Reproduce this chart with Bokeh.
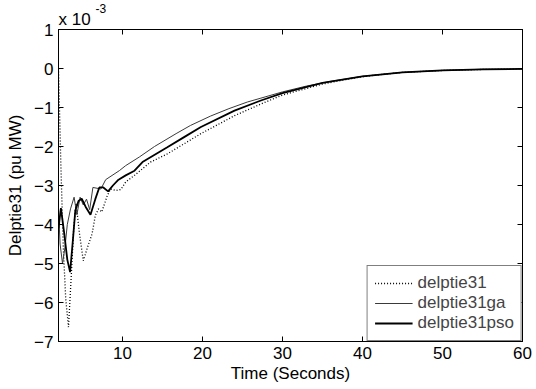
from bokeh.plotting import figure
from bokeh.models import (LinearAxis, FixedTicker, Range1d, Legend, LegendItem,
                          Title, CustomJSTickFormatter)
from bokeh.embed import file_html
from bokeh.resources import INLINE

# ---- data (values in units of 1e-3 pu MW) ----
t_dot = [2.0, 2.3, 2.6, 2.9, 3.25, 3.6, 3.9, 4.2, 4.6, 5.1, 5.6, 6.2, 6.6, 7.0,
         7.4, 8.1, 8.5, 9.2, 9.8, 10.4, 11.5, 13.5, 15.6, 17.7, 19.8, 22.0, 24.0,
         27.3, 30.0, 32.5, 35.0, 37.5, 40.0, 42.5, 45.0, 47.5, 50.0, 55.0, 60.0]
y_dot = [0.0, -2.5, -4.6, -5.9, -6.63, -5.3, -4.1, -3.45, -4.2, -4.93, -4.6, -4.24,
         -3.77, -3.6, -3.68, -3.26, -3.09, -3.13, -3.1, -2.91, -2.74, -2.40, -2.19,
         -1.93, -1.67, -1.43, -1.21, -0.91, -0.68, -0.54, -0.40, -0.30, -0.21, -0.15,
         -0.10, -0.075, -0.05, -0.025, -0.01]

t_ga = [2.0, 2.2, 2.5, 2.8, 3.1, 3.5, 3.95, 4.3, 4.7, 5.1, 5.5, 5.9, 6.3, 7.3,
        7.9, 9.6, 10.4, 12.1, 14.0, 16.7, 18.5, 21.0, 23.3, 25.6, 27.3, 30.0,
        33.0, 36.0, 40.0, 45.0, 50.0, 55.0, 60.0]
y_ga = [-3.6, -4.5, -5.0, -4.6, -4.0, -3.6, -3.3, -3.75, -3.3, -3.5, -3.35, -3.62,
        -3.05, -3.09, -2.85, -2.62, -2.49, -2.27, -2.0, -1.67, -1.46, -1.22, -1.03,
        -0.86, -0.76, -0.60, -0.45, -0.33, -0.20, -0.10, -0.05, -0.02, -0.01]

t_pso = [2.0, 2.3, 2.7, 3.1, 3.45, 3.8, 4.1, 4.5, 4.9, 5.4, 6.0, 6.6, 7.1, 7.6,
         8.2, 8.8, 9.5, 10.4, 11.5, 12.5, 15.6, 17.7, 19.8, 24.0, 27.3, 30.0,
         35.0, 40.0, 45.0, 50.0, 55.0, 60.0]
y_pso = [-4.1, -3.58, -4.2, -4.9, -5.22, -4.4, -3.64, -3.4, -3.34, -3.55, -3.75,
         -3.35, -3.05, -3.05, -3.15, -3.0, -2.85, -2.74, -2.62, -2.40, -2.02, -1.76,
         -1.50, -1.08, -0.82, -0.63, -0.37, -0.20, -0.10, -0.05, -0.025, -0.01]

x_ticks = [10, 20, 30, 40, 50, 60]
y_ticks = [-7, -6, -5, -4, -3, -2, -1, 0, 1]
series_names = ["delptie31", "delptie31ga", "delptie31pso"]

FONT = "Liberation Sans"
FS = "17px"

p = figure(width=536, height=389, output_backend="svg", toolbar_location=None,
           x_range=Range1d(2, 60), y_range=Range1d(-7, 1),
           min_border_left=58, min_border_right=14, min_border_top=29,
           min_border_bottom=48, background_fill_color="white",
           border_fill_color="white")
p.grid.visible = False
p.outline_line_color = "black"
p.outline_line_width = 1

for ax, ticks in ((p.xaxis[0], x_ticks), (p.yaxis[0], y_ticks)):
    ax.ticker = FixedTicker(ticks=ticks)
    ax.major_tick_in = 5
    ax.major_tick_out = 0
    ax.minor_tick_line_color = None
    ax.axis_line_color = "black"
    ax.major_label_text_font = FONT
    ax.major_label_text_font_size = FS
    ax.major_label_text_color = "black"
    ax.axis_label_text_font = FONT
    ax.axis_label_text_font_size = FS
    ax.axis_label_text_font_style = "normal"
    ax.axis_label_text_color = "black"

p.xaxis[0].axis_label = "Time (Seconds)"
p.xaxis[0].major_label_standoff = 5
p.xaxis[0].axis_label_standoff = 2
p.yaxis[0].axis_label = "Delptie31 (pu MW)"
p.yaxis[0].major_label_standoff = 5
p.yaxis[0].axis_label_standoff = 6

blank = CustomJSTickFormatter(code="return ''")
for loc, ticks in (("above", x_ticks), ("right", y_ticks)):
    a = LinearAxis(ticker=FixedTicker(ticks=ticks), formatter=blank)
    a.major_tick_in = 5
    a.major_tick_out = 0
    a.minor_tick_line_color = None
    a.major_label_standoff = 0
    a.major_label_text_font_size = "1px"
    p.add_layout(a, loc)

r_dot = p.line(t_dot, y_dot, line_color="black", line_width=1.3, line_dash="1 2")
r_ga = p.line(t_ga, y_ga, line_color="#3a3a3a", line_width=1)
r_pso = p.line(t_pso, y_pso, line_color="black", line_width=1.8)

legend = Legend(items=[LegendItem(label=series_names[0], renderers=[r_dot]),
                       LegendItem(label=series_names[1], renderers=[r_ga]),
                       LegendItem(label=series_names[2], renderers=[r_pso])],
                location="bottom_right", margin=0, padding=7, spacing=0,
                glyph_width=38, glyph_height=18, label_height=18,
                label_standoff=5, border_line_color="black", border_line_width=1,
                label_text_font=FONT, label_text_font_size=FS,
                background_fill_color="white", background_fill_alpha=1)
p.add_layout(legend, "center")

# exponent note above the axes, "x 10" with a raised "-3"
p.add_layout(Title(text="x 10", align="left", text_font=FONT, text_font_size=FS,
                   text_font_style="normal", text_color="black", standoff=2),
             "above")
p.add_layout(Title(text="-3", align="left", text_font=FONT, text_font_size="12px",
                   text_font_style="normal", text_color="black", offset=37,
                   standoff=-12), "above")

open("out.html", "w").write(file_html(p, INLINE))
